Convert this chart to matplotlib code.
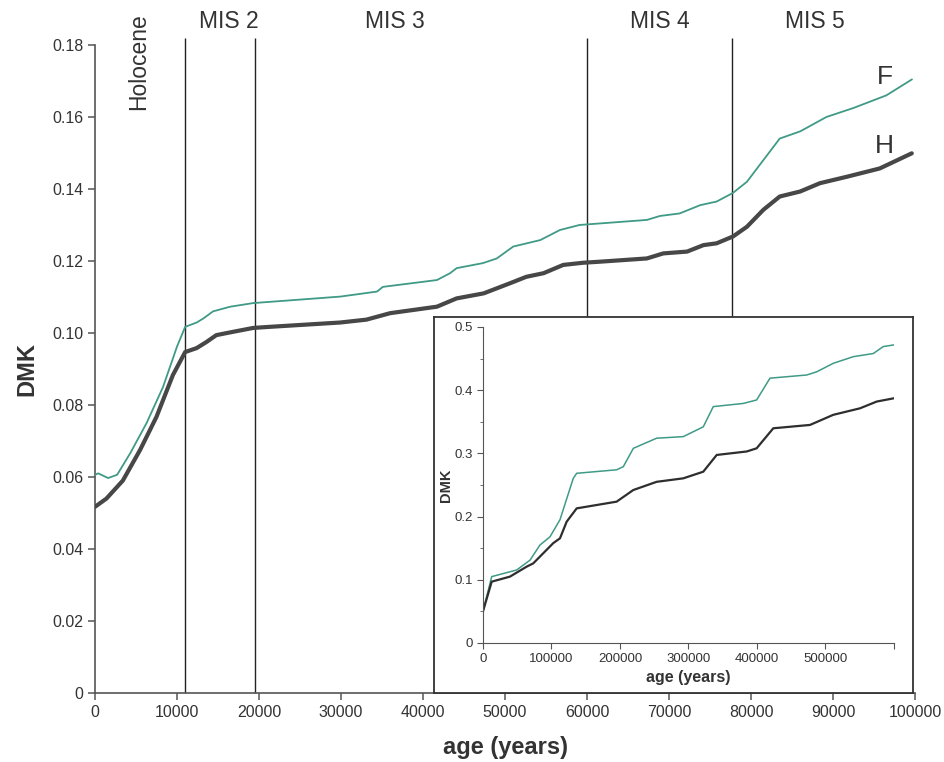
import numpy as np
import matplotlib
matplotlib.use("Agg")
import matplotlib.pyplot as plt

plt.rcParams['font.family'] = ['Liberation Sans', 'DejaVu Sans']

# main chart: last 100 ka
f_age = [0, 400, 1600, 2700, 4300, 6300, 8300, 10000, 11000, 12400, 13200, 14400, 16500,
         19300, 29900, 34400, 35100, 41700, 43300, 44100, 47300, 49000, 51000, 54300, 56700,
         59100, 67300, 68900, 71300, 73800, 75800, 77800, 79500, 81500, 83500, 86000, 87600,
         89200, 92500, 96500, 99600]
f_dmk = [0.0606, 0.0610, 0.0597, 0.0606, 0.0666, 0.0750, 0.0850, 0.0962, 0.1017, 0.1029,
         0.1040, 0.1060, 0.1073, 0.1083, 0.1101, 0.1115, 0.1128, 0.1147, 0.1166, 0.1180,
         0.1194, 0.1207, 0.1240, 0.1258, 0.1286, 0.1300, 0.1314, 0.1325, 0.1332, 0.1355,
         0.1365, 0.1389, 0.1420, 0.1480, 0.1540, 0.1560, 0.1580, 0.1600, 0.1625, 0.1660,
         0.1704]
h_age = [0, 1400, 3400, 5500, 7500, 9500, 11000, 12400, 13600, 14800, 16800, 19300, 21300,
         29900, 33100, 36000, 41700, 44100, 47400, 50600, 52600, 54700, 57100, 59500, 61600,
         67300, 69300, 72200, 74200, 75800, 77800, 79500, 81500, 83500, 86000, 88400, 91700,
         95700, 99600]
h_dmk = [0.0517, 0.0540, 0.0590, 0.0675, 0.0767, 0.0883, 0.0947, 0.0958, 0.0975, 0.0994,
         0.1003, 0.1014, 0.1017, 0.1029, 0.1037, 0.1055, 0.1073, 0.1096, 0.1110, 0.1138,
         0.1156, 0.1166, 0.1189, 0.1195, 0.1198, 0.1207, 0.1221, 0.1226, 0.1244, 0.1249,
         0.1268, 0.1295, 0.1342, 0.1379, 0.1393, 0.1416, 0.1434, 0.1457, 0.1499]

boundaries = [11000, 19500, 60000, 77700]
stage_names = ["MIS 2", "MIS 3", "MIS 4", "MIS 5"]
stage_pos = [16300, 36600, 68900, 87800]

# inset: last 600 ka
fi_age = [0, 12700, 49200, 68600, 83200, 97800, 112400, 131800, 136800, 195100, 204900,
          219500, 253500, 292400, 321600, 336200, 380000, 399500, 419000, 472500, 487100,
          511400, 540600, 569800, 584400, 599000]
fi_dmk = [0.050, 0.105, 0.1155, 0.131, 0.155, 0.168, 0.195, 0.2605, 0.2685, 0.274, 0.279,
          0.308, 0.324, 0.3265, 0.342, 0.374, 0.379, 0.3845, 0.419, 0.424, 0.429, 0.4425,
          0.453, 0.458, 0.469, 0.4715]
hi_age = [0, 12700, 39400, 63800, 73400, 88000, 102600, 112400, 122200, 136800, 195100,
          219400, 253500, 292400, 321600, 341200, 385000, 399500, 423800, 477400, 511400,
          550400, 574800, 599000]
hi_dmk = [0.050, 0.097, 0.105, 0.1208, 0.126, 0.142, 0.158, 0.1656, 0.192, 0.213, 0.2236,
          0.242, 0.255, 0.2605, 0.271, 0.2975, 0.303, 0.308, 0.3397, 0.345, 0.361, 0.3713,
          0.382, 0.387]

teal = '#3f9a86'
dark = '#474747'
txt = '#333333'

fig = plt.figure(figsize=(9.45, 7.62), dpi=100)
ax = fig.add_axes([0.1005, 0.0906, 0.8678, 0.8504])
ax.plot(f_age, f_dmk, color=teal, lw=1.3, zorder=3, solid_joinstyle='round')
ax.plot(h_age, h_dmk, color=dark, lw=3, zorder=3, solid_joinstyle='round',
        solid_capstyle='round')
ax.vlines(boundaries, 0, 0.182, color='#222222', lw=1, clip_on=False, zorder=2)
ax.set_xlim(0, 100000)
ax.set_ylim(0, 0.18)
ax.set_xticks(np.arange(0, 100001, 10000))
ax.set_yticks(np.arange(0, 0.181, 0.02))
ax.set_yticklabels(['0'] + ['%.2f' % v for v in np.arange(0.02, 0.181, 0.02)])
for s in ['top', 'right']:
    ax.spines[s].set_visible(False)
for s in ['left', 'bottom']:
    ax.spines[s].set_color('#555555')
    ax.spines[s].set_linewidth(1.2)
ax.tick_params(colors='#555555', labelcolor=txt, labelsize=11.5, length=5, width=1.1)
ax.set_xlabel('age (years)', fontsize=17, fontweight='bold', color=txt, labelpad=12)
ax.set_ylabel('DMK', fontsize=17, fontweight='bold', color=txt, labelpad=10)

ax.text(5300, 0.1755, 'Holocene', rotation=90, ha='center', va='center', fontsize=16.5,
        color=txt, clip_on=False)
for name, xp in zip(stage_names, stage_pos):
    ax.text(xp, 0.1865, name, ha='center', va='center', fontsize=16.5, color=txt,
            clip_on=False)
ax.text(96300, 0.171, 'F', ha='center', va='center', fontsize=19, color=txt)
ax.text(96300, 0.152, 'H', ha='center', va='center', fontsize=19, color=txt)

# inset frame
box = fig.add_axes([0.4593, 0.0906, 0.5069, 0.4934])
box.set_xticks([])
box.set_yticks([])
box.set_facecolor('white')
for s in box.spines.values():
    s.set_color('#333333')
    s.set_linewidth(1.3)
box.set_zorder(5)

ins = fig.add_axes([0.5111, 0.1562, 0.4349, 0.4147])
ins.set_zorder(6)
ins.patch.set_alpha(0)
ins.plot(fi_age, fi_dmk, color=teal, lw=1.1, solid_joinstyle='round')
ins.plot(hi_age, hi_dmk, color='#2e2e2e', lw=1.6, solid_joinstyle='round')
ins.set_xlim(0, 600000)
ins.set_ylim(0, 0.5)
ins.set_xticks(np.arange(0, 600001, 100000))
ins.set_xticklabels([str(v) for v in range(0, 500001, 100000)] + [''])
ins.set_yticks(np.arange(0, 0.51, 0.1))
ins.set_yticklabels(['0', '0.1', '0.2', '0.3', '0.4', '0.5'])
ins.set_yticks(np.arange(0.05, 0.5, 0.1), minor=True)
for s in ['top', 'right']:
    ins.spines[s].set_visible(False)
for s in ['left', 'bottom']:
    ins.spines[s].set_color('#555555')
ins.tick_params(colors='#555555', labelcolor=txt, labelsize=9.5, length=4)
ins.tick_params(which='minor', length=2.5, colors='#555555')
ins.set_xlabel('age (years)', fontsize=11.5, fontweight='bold', color=txt, labelpad=3)
ins.set_ylabel('DMK', fontsize=10.5, fontweight='bold', color=txt, labelpad=1)

fig.savefig('out.png', dpi=100, facecolor='white')
